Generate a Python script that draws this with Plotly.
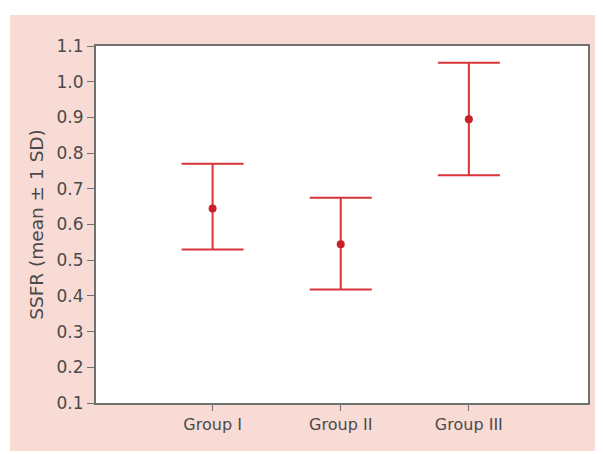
import plotly.graph_objects as go

groups = ["Group I", "Group II", "Group III"]
x_pos = [1, 2, 3]
means = [0.645, 0.545, 0.895]
upper = [0.77, 0.675, 1.053]
lower = [0.53, 0.418, 0.738]

err_plus = [u - m for u, m in zip(upper, means)]
err_minus = [m - l for m, l in zip(means, lower)]

# page body has an 8px margin, so the figure is drawn 8px smaller
W, H = 595, 446
L, R, T, B = 88, 15, 38, 51
pw, ph = W - L - R, H - T - B

red = "#d8343a"
fig = go.Figure()
fig.add_trace(go.Scatter(
    x=x_pos, y=means, mode="markers",
    marker=dict(color="#c8202a", size=8),
    error_y=dict(type="data", symmetric=False, array=err_plus, arrayminus=err_minus,
                 color=red, thickness=2, width=31),
    showlegend=False,
))

def px_to_paper_x(px):
    return (px - L) / pw

def px_to_paper_y(py):
    return (H - B - py) / ph

fig.add_shape(type="rect", xref="paper", yref="paper",
              x0=px_to_paper_x(2), x1=px_to_paper_x(600),
              y0=px_to_paper_y(443), y1=px_to_paper_y(7),
              fillcolor="#f9dbd5", line=dict(width=0), layer="below")
fig.add_shape(type="rect", xref="paper", yref="paper",
              x0=0, x1=1, y0=0, y1=1,
              fillcolor="white", line=dict(width=0), layer="below")

font_col = "#4a4a4a"
fig.update_layout(
    width=W, height=H,
    margin=dict(l=L, r=R, t=T, b=B, pad=0),
    paper_bgcolor="white", plot_bgcolor="rgba(0,0,0,0)",
    font=dict(family="DejaVu Sans, sans-serif", color=font_col, size=16),
    xaxis=dict(range=[0.09, 3.93], tickvals=x_pos, ticktext=groups,
               showgrid=False, zeroline=False, showline=True, linecolor="#707070",
               linewidth=2, mirror=True, ticks="outside", ticklen=6, tickwidth=1,
               tickcolor="#707070", tickfont=dict(size=16, color=font_col)),
    yaxis=dict(range=[0.1, 1.1], tickvals=[0.1, 0.2, 0.3, 0.4, 0.5, 0.6, 0.7, 0.8, 0.9, 1.0, 1.1],
               ticktext=["0.1", "0.2", "0.3", "0.4", "0.5", "0.6", "0.7", "0.8", "0.9", "1.0", "1.1"],
               showgrid=False, zeroline=False, showline=True, linecolor="#707070",
               linewidth=2, mirror=True, ticks="outside", ticklen=7, tickwidth=1,
               tickcolor="#707070", tickfont=dict(size=17, color=font_col),
               title=dict(text="SSFR (mean ± 1 SD)", font=dict(size=18.5, color=font_col), standoff=8)),
)
fig.write_html("out.html")
